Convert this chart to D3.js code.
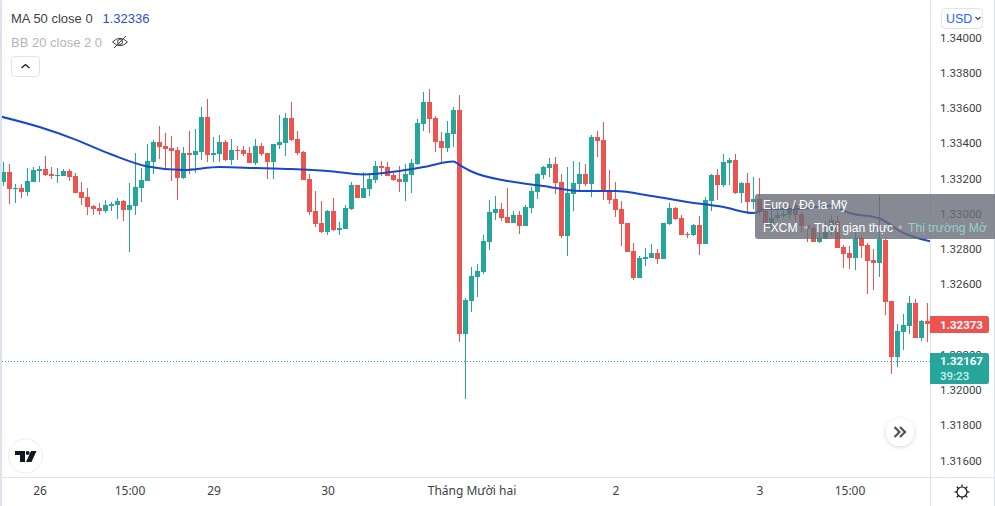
<!DOCTYPE html>
<html><head><meta charset="utf-8">
<script src="https://cdnjs.cloudflare.com/ajax/libs/d3/7.8.5/d3.min.js"></script>
<style>html,body{margin:0;padding:0;background:#fff;overflow:hidden}svg{display:block}</style>
</head><body><svg id="c" width="995" height="506"></svg>
<script>
const opens=[1.33177,1.33234,1.33138,1.33143,1.33121,1.33177,1.33240,1.33251,1.33223,1.33211,1.33211,1.33240,1.33211,1.33121,1.33092,1.33041,1.33030,1.33013,1.33041,1.33047,1.33069,1.33018,1.33041,1.33143,1.33183,1.33291,1.33404,1.33382,1.33370,1.33359,1.33200,1.33342,1.33330,1.33348,1.33546,1.33330,1.33336,1.33404,1.33302,1.33359,
1.33359,1.33342,1.33285,1.33382,1.33342,1.33291,1.33387,1.33399,1.33540,1.33421,1.33348,1.33194,1.33013,1.32945,1.32894,1.33013,1.32905,1.32911,1.33024,1.33160,1.33087,1.33138,1.33189,1.33268,1.33262,1.33217,1.33194,1.33177,1.33217,1.33279,
1.33506,1.33631,1.33540,1.33410,1.33370,1.33450,1.33586,1.32315,1.32502,1.32638,1.32667,1.32837,1.33001,1.33024,1.32979,1.32945,1.32990,1.32928,1.33030,1.33121,1.33217,1.33257,1.33279,1.33177,1.32871,1.33109,1.33166,1.33223,1.33166,1.33433,
1.33416,1.33126,1.33081,1.33024,1.32945,1.32786,1.32633,1.32740,1.32746,1.32774,1.32740,1.32939,1.33030,1.32973,1.32882,1.32877,1.32933,1.32825,1.33069,1.33217,1.33160,1.33285,1.33302,1.33115,1.33172,1.33064,1.33081,1.33013,1.32933,1.32973,
1.32984,1.32990,1.33047,1.32996,1.32933,1.32916,1.32837,1.32854,1.32894,1.32956,1.32808,1.32774,1.32746,1.32860,1.32820,1.32735,1.32718,1.32848,1.32502,1.32184,1.32327,1.32360,1.32491,1.32292,1.32389];
const highs=[1.33291,1.33279,1.33166,1.33166,1.33257,1.33262,1.33268,1.33325,1.33262,1.33257,1.33251,1.33251,1.33228,1.33177,1.33143,1.33047,1.33058,1.33075,1.33064,1.33087,1.33075,1.33172,1.33342,1.33257,1.33393,1.33416,1.33495,1.33455,1.33438,1.33376,1.33376,1.33467,1.33478,1.33603,1.33648,1.33433,1.33444,1.33416,1.33421,1.33382,
1.33382,1.33376,1.33421,1.33399,1.33342,1.33393,1.33557,1.33569,1.33631,1.33467,1.33353,1.33223,1.33126,1.33069,1.33018,1.33087,1.32950,1.33047,1.33177,1.33160,1.33234,1.33228,1.33296,1.33296,1.33291,1.33228,1.33268,1.33279,1.33308,1.33535,
1.33688,1.33705,1.33552,1.33461,1.33523,1.33603,1.33671,1.32519,1.32695,1.32712,1.32877,1.33075,1.33098,1.33058,1.33143,1.33013,1.33013,1.33047,1.33149,1.33228,1.33268,1.33313,1.33319,1.33223,1.33262,1.33296,1.33291,1.33279,1.33444,1.33467,
1.33518,1.33245,1.33177,1.33069,1.32945,1.32831,1.32757,1.32803,1.32825,1.32797,1.32945,1.33058,1.33035,1.32990,1.32894,1.32939,1.32984,1.33092,1.33223,1.33251,1.33336,1.33313,1.33336,1.33177,1.33228,1.33206,1.33200,1.33064,1.33047,1.33018,
1.33024,1.33047,1.33058,1.33007,1.32933,1.32928,1.32888,1.32956,1.32990,1.32984,1.32820,1.32814,1.32894,1.32871,1.32831,1.32797,1.33104,1.32854,1.32502,1.32372,1.32428,1.32530,1.32513,1.32394,1.32491];
const lows=[1.33155,1.33052,1.33058,1.33087,1.33098,1.33177,1.33177,1.33211,1.33194,1.33172,1.33211,1.33183,1.33115,1.33047,1.32990,1.32990,1.32990,1.33001,1.33013,1.32967,1.32956,1.32780,1.32990,1.33064,1.33183,1.33223,1.33308,1.33245,1.33183,1.33075,1.33194,1.33223,1.33228,1.33302,1.33291,1.33291,1.33291,1.33296,1.33274,1.33302,
1.33325,1.33285,1.33274,1.33325,1.33194,1.33194,1.33365,1.33325,1.33410,1.33330,1.33189,1.32990,1.32922,1.32888,1.32877,1.32899,1.32877,1.32911,1.33018,1.33087,1.33087,1.33098,1.33172,1.33211,1.33211,1.33183,1.33121,1.33069,1.33115,1.33274,
1.33467,1.33455,1.33348,1.33279,1.33348,1.33376,1.32269,1.31946,1.32440,1.32525,1.32655,1.32791,1.32962,1.32956,1.32945,1.32945,1.32882,1.32928,1.33001,1.33081,1.33194,1.33206,1.33109,1.32860,1.32757,1.33013,1.33121,1.33155,1.33092,1.33319,
1.33075,1.33052,1.32979,1.32814,1.32780,1.32621,1.32633,1.32701,1.32746,1.32712,1.32740,1.32933,1.32962,1.32877,1.32860,1.32871,1.32763,1.32825,1.33013,1.33075,1.33149,1.33160,1.33109,1.33058,1.32996,1.33024,1.32990,1.32905,1.32894,1.32956,
1.32973,1.32967,1.32950,1.32894,1.32837,1.32837,1.32831,1.32854,1.32877,1.32803,1.32689,1.32684,1.32678,1.32746,1.32542,1.32564,1.32638,1.32423,1.32088,1.32128,1.32224,1.32315,1.32292,1.32275,1.32269];
const closes=[1.33234,1.33138,1.33143,1.33121,1.33183,1.33245,1.33251,1.33217,1.33211,1.33217,1.33240,1.33206,1.33115,1.33087,1.33035,1.33024,1.33013,1.33047,1.33052,1.33069,1.33018,1.33047,1.33149,1.33189,1.33296,1.33404,1.33376,1.33365,1.33353,1.33200,1.33342,1.33330,1.33353,1.33546,1.33330,1.33342,1.33404,1.33302,1.33359,1.33353,
1.33336,1.33285,1.33382,1.33336,1.33291,1.33393,1.33404,1.33540,1.33416,1.33342,1.33189,1.33007,1.32939,1.32894,1.33013,1.32905,1.32916,1.33030,1.33160,1.33087,1.33143,1.33194,1.33268,1.33257,1.33211,1.33189,1.33177,1.33223,1.33285,1.33512,
1.33631,1.33535,1.33404,1.33370,1.33455,1.33586,1.32315,1.32508,1.32644,1.32672,1.32842,1.33007,1.33024,1.32973,1.32945,1.32990,1.32928,1.33035,1.33126,1.33223,1.33262,1.33279,1.33172,1.32871,1.33115,1.33172,1.33223,1.33166,1.33433,1.33410,
1.33121,1.33075,1.33018,1.32939,1.32780,1.32633,1.32746,1.32752,1.32774,1.32740,1.32945,1.33030,1.32967,1.32877,1.32877,1.32933,1.32825,1.33075,1.33217,1.33160,1.33291,1.33302,1.33115,1.33172,1.33064,1.33081,1.33007,1.32933,1.32973,1.32990,
1.32996,1.33030,1.32990,1.32928,1.32911,1.32837,1.32860,1.32894,1.32962,1.32803,1.32769,1.32746,1.32860,1.32814,1.32729,1.32718,1.32854,1.32496,1.32184,1.32332,1.32366,1.32491,1.32292,1.32389,1.32373];
const maIndex=[-0.5,6,12,18,24,30,36,42,48,54,60,66,70,75,76,78,84,90,96,102,108,114,120,125,127,132,138,141,146,150,154.5];
const maValues=[1.33549,1.33489,1.33418,1.33333,1.33265,1.33245,1.33262,1.33257,1.33251,1.33240,1.33220,1.33240,1.33262,1.33294,1.33274,1.33237,1.33183,1.33155,1.33126,1.33126,1.33098,1.33064,1.33035,1.33001,1.33024,1.33024,1.33041,1.33001,1.32970,1.32888,1.32840];
const priceTicks=[1.34,1.338,1.336,1.334,1.332,1.33,1.328,1.326,1.324,1.322,1.32,1.318,1.316];
const timeIndex=[6,21,35,54,78,102,126,141];
const timeLabels=["26","15:00","29","30","Tháng Mười hai","2","3","15:00"];
const lastClose=1.32373, livePrice=1.32167, maLast="1.32336", countdown="39:23";
const maLegend="MA 50 close 0", bbLegend="BB 20 close 2 0";
const overlayTitle="Euro / Đô la Mỹ", overlaySource="FXCM", overlayMode="Thời gian thực", overlayStatus="Thị trường Mở";

const UP="#26a69a",DOWN="#ef5350",LINE="#e0e3eb",TXT="#131722";
const UI="'Liberation Sans',Arial,sans-serif", TICK="Roboto,'Liberation Sans',sans-serif", TIME="'Noto Sans',sans-serif";
const svg=d3.select("#c");
const x=d3.scaleLinear().domain([0,154]).range([3.5,927.5]);
const y=d3.scaleLinear().domain([1.316,1.34]).range([460,37]);
const ry=v=>Math.round(y(v));
const data=opens.map((o,i)=>({i,o,h:highs[i],l:lows[i],c:closes[i]}));
const col=d=>d.c>=d.o?UP:DOWN;

svg.append("defs").append("clipPath").attr("id","pane").append("rect").attr("x",2).attr("y",0).attr("width",928).attr("height",478);
svg.append("defs").append("filter").attr("id","sh").attr("x","-50%").attr("y","-50%").attr("width","200%").attr("height","200%")
  .append("feDropShadow").attr("dx",0).attr("dy",1).attr("stdDeviation",2).attr("flood-color","#000").attr("flood-opacity",.18);

const pane=svg.append("g").attr("clip-path","url(#pane)");
pane.append("line").attr("x1",2).attr("x2",930).attr("y1",ry(livePrice)+1.5).attr("y2",ry(livePrice)+1.5)
  .attr("stroke",UP).attr("stroke-dasharray","1 2");
const cg=pane.append("g").attr("shape-rendering","crispEdges");
cg.selectAll("rect.w").data(data).join("rect").attr("class","w")
  .attr("x",d=>x(d.i)-.5).attr("width",1).attr("y",d=>ry(d.h)).attr("height",d=>Math.max(1,ry(d.l)-ry(d.h))).attr("fill",col);
cg.selectAll("rect.b").data(data).join("rect").attr("class","b")
  .attr("x",d=>x(d.i)-2.5).attr("width",5).attr("y",d=>ry(Math.max(d.o,d.c))).attr("height",d=>Math.max(1,ry(Math.min(d.o,d.c))-ry(Math.max(d.o,d.c)))).attr("fill",col);
pane.append("path").datum(maIndex.map((k,j)=>[k,maValues[j]]))
  .attr("d",d3.line().x(d=>x(d[0])).y(d=>y(d[1])).curve(d3.curveMonotoneX))
  .attr("fill","none").attr("stroke","#1848cc").attr("stroke-width",2);

// frame
const frame=svg.append("g").attr("shape-rendering","crispEdges");
frame.append("rect").attr("x",0).attr("y",0).attr("width",2).attr("height",506).attr("fill","#dfe3f0");
frame.append("rect").attr("x",930).attr("y",0).attr("width",1).attr("height",506).attr("fill",LINE);
frame.append("rect").attr("x",994).attr("y",0).attr("width",1).attr("height",506).attr("fill",LINE);
frame.append("rect").attr("x",2).attr("y",477).attr("width",993).attr("height",1).attr("fill",LINE);

// axes
const ay=svg.append("g").attr("transform","translate(940,0.5)")
  .call(d3.axisRight(y).tickValues(priceTicks).tickSize(0).tickPadding(0).tickFormat(d3.format(".5f")));
ay.select(".domain").remove();
ay.selectAll("text").attr("font-family",TICK).attr("font-size",11.5).attr("fill","#3c3f4a");
const ax=svg.append("g").attr("transform","translate(0,486)")
  .call(d3.axisBottom(x).tickValues(timeIndex).tickSize(0).tickPadding(0).tickFormat((d,i)=>timeLabels[i]));
ax.select(".domain").remove();
ax.selectAll("text").attr("font-family",TIME).attr("font-size",12).attr("fill","#3c3f4a");

// price labels
const lab=svg.append("g").attr("font-family",UI);
lab.append("path").attr("d","M930 316H986.5a2.5 2.5 0 0 1 2.5 2.5V330.5a2.5 2.5 0 0 1-2.5 2.5H930Z").attr("fill",DOWN);
lab.append("text").attr("x",940).attr("y",329).attr("font-family",TICK).attr("font-size",11.5).attr("font-weight",700).attr("fill","#fff").text(d3.format(".5f")(lastClose));
lab.append("path").attr("d","M930 353H986.5a2.5 2.5 0 0 1 2.5 2.5V381.5a2.5 2.5 0 0 1-2.5 2.5H930Z").attr("fill",UP);
lab.append("text").attr("x",940).attr("y",365).attr("font-family",TICK).attr("font-size",11.5).attr("font-weight",700).attr("fill","#fff").text(d3.format(".5f")(livePrice));
lab.append("text").attr("x",940).attr("y",380).attr("font-family",TICK).attr("font-size",11.5).attr("font-weight",500).attr("fill","#cfeeea").text(countdown);

// overlay
const ov=svg.append("g").attr("font-family",UI).attr("font-size",12.2);
ov.append("path").attr("d","M995 194H758a3 3 0 0 0-3 3V236a3 3 0 0 0 3 3H995Z").attr("fill","#6a6d78").attr("fill-opacity",.8);
ov.append("text").attr("x",763).attr("y",209).attr("fill","#fff").text(overlayTitle);
const t2=ov.append("text").attr("x",763).attr("y",232);
t2.append("tspan").attr("fill","#fff").text(overlaySource);
t2.append("tspan").attr("x",804).attr("fill","#b2b5be").text("•");
t2.append("tspan").attr("x",814).attr("fill","#fff").text(overlayMode);
t2.append("tspan").attr("x",898).attr("fill","#b2b5be").text("•");
t2.append("tspan").attr("x",908).attr("fill","#8fd3c9").text(overlayStatus);

// legend
const lg=svg.append("g").attr("font-family",UI).attr("font-size",13);
lg.append("text").attr("x",11).attr("y",23).attr("fill","#3c3f4a").text(maLegend);
lg.append("text").attr("x",102.5).attr("y",23).attr("fill","#2950c8").text(maLast);
lg.append("text").attr("x",11).attr("y",47).attr("fill","#b2b5be").text(bbLegend);
const eye=lg.append("g").attr("fill","none").attr("stroke","#3c3f4a").attr("stroke-width",1);
eye.append("path").attr("d","M112.5 42Q120 34.5 127.5 42Q120 49.5 112.5 42Z");
eye.append("circle").attr("cx",120).attr("cy",42).attr("r",2.5);
eye.append("path").attr("d","M114 48L126 36");
lg.append("rect").attr("x",11.5).attr("y",56.5).attr("width",28).attr("height",20).attr("rx",3).attr("fill","#fff").attr("stroke",LINE);
lg.append("path").attr("d","M21.5 68L25.5 64.5L29.5 68").attr("fill","none").attr("stroke",TXT).attr("stroke-width",1.3);

// currency button
const cur=svg.append("g").attr("font-family",UI);
cur.append("rect").attr("x",941.5).attr("y",8.5).attr("width",41).attr("height",20).attr("rx",4).attr("fill","#fff").attr("stroke",LINE);
cur.append("text").attr("x",946).attr("y",23).attr("font-size",12.5).attr("fill","#2962ff").text("USD");
cur.append("path").attr("d","M975.5 17L978 19.5L980.5 17").attr("fill","none").attr("stroke","#3c3f4a").attr("stroke-width",1.1);

// scroll button
svg.append("circle").attr("cx",900).attr("cy",432).attr("r",14).attr("fill","#fff").attr("filter","url(#sh)");
svg.append("path").attr("d","M894.5 427L899.5 432L894.5 437M900 427L905 432L900 437").attr("fill","none").attr("stroke","#50535e").attr("stroke-width",2.2);

// logo
svg.append("circle").attr("cx",25.5).attr("cy",456).attr("r",17).attr("fill","#fff").attr("stroke","#eceef2");
svg.append("path").attr("d","M15 451H25V462H20V455H15Z M31 451H36.5L31.5 462H26Z").attr("fill",TXT);
svg.append("circle").attr("cx",27.7).attr("cy",453).attr("r",2).attr("fill",TXT);

// settings gear
const g=svg.append("g").attr("transform","translate(962,492)").attr("fill","none").attr("stroke",TXT).attr("stroke-width",1.2);
g.append("circle").attr("r",5);
g.selectAll("line").data(d3.range(8)).join("line").attr("x1",0).attr("x2",0).attr("y1",-5).attr("y2",-7.5).attr("transform",d=>`rotate(${d*45})`);
</script></body></html>
